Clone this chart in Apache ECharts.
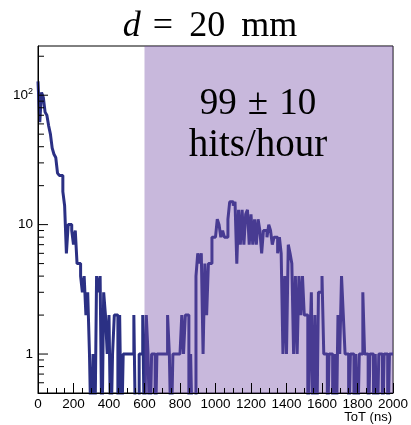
<!DOCTYPE html>
<html>
<head>
<meta charset="utf-8">
<script src="https://cdn.jsdelivr.net/npm/echarts@6/dist/echarts.min.js"></script>
<style>
  html, body { margin: 0; padding: 0; background: #ffffff; }
  #chart { width: 411px; height: 425px; }
</style>
</head>
<body>
<div id="chart"></div>
<script>
// Time-over-threshold spectrum, 10 ns bins from 0 to 2000 ns (counts per bin)
const binWidth = 10;
const counts = [
  128, 62, 105, 96, 74, 70, 58, 50, 39, 35,
  33, 25, 24, 24, 18, 14, 6, 10, 10, 9,
  7, 9, 5, 5, 4, 3, 4, 2, 3, 1,
  0, 1, 0, 4, 3, 4, 0, 3, 2, 1,
  2, 0, 1, 2, 2, 0, 2, 0, 1, 1,
  1, 1, 1, 1, 2, 0, 0, 1, 1, 2,
  0, 2, 1, 0, 1, 1, 0, 1, 1, 1,
  1, 1, 1, 2, 1, 0, 1, 1, 1, 1,
  1, 2, 1, 2, 2, 0, 1, 0, 0, 4,
  6, 5, 6, 1, 5, 2, 5, 5, 8, 8,
  8, 11, 10, 8, 9, 8, 8, 11, 15, 15,
  14, 15, 5, 13, 7, 13, 7, 12, 13, 7,
  12, 7, 11, 7, 11, 9, 6, 9, 9, 8,
  10, 9, 7, 8, 8, 6, 8, 6, 1, 4,
  1, 7, 6, 5, 1, 4, 1, 4, 2, 4,
  2, 2, 0, 1, 3, 0, 2, 0, 3, 3,
  4, 1, 1, 0, 1, 1, 0, 1, 0, 2,
  1, 4, 2, 1, 1, 0, 1, 1, 0, 1,
  0, 1, 1, 3, 1, 1, 0, 1, 1, 0,
  1, 0, 1, 1, 0, 1, 1, 0, 1, 1
];

// Axis ranges
const xRange = [0, 2000];
const yRange = [0.5, 240];
// Signal window highlighted in the plot
const signalWindow = [600, 2000];
// Tick values on the logarithmic axis
const yMajorTicks = [1, 10, 100];
const yMinorTicks = [0.6, 0.7, 0.8, 0.9, 2, 3, 4, 5, 6, 7, 8, 9,
  20, 30, 40, 50, 60, 70, 80, 90, 200];

const titleParts = ['d', '=', '20', 'mm'];
const rateParts = ['99', '\u00b1', '10'];
const rateUnit = 'hits/hour';
const xTitle = 'ToT (ns)';

// Empty bins sit below the visible range so the line drops to the floor
const floorValue = 0.2;
const histPoints = counts.map((c, i) => [i * binWidth, c > 0 ? c : floorValue]);
const lastCount = counts[counts.length - 1];
histPoints.push([counts.length * binWidth, lastCount > 0 ? lastCount : floorValue]);

const lineColor = '#2b3084';
const labelFont = 'Liberation Sans';
const serif = 'Liberation Serif';

const chart = echarts.init(document.getElementById('chart'), null, { renderer: 'canvas' });

function logLabel(v) {
  const e = Math.round(Math.log10(v));
  if (Math.abs(Math.log10(v) - e) > 1e-6) return '';
  if (e >= 2) return '{b|10}{s|' + e + '}';
  return '{b|' + Math.round(v) + '}';
}

chart.setOption({
  animation: false,
  backgroundColor: '#ffffff',
  grid: {
    left: 38, top: 46, right: 18, bottom: 32,
    containLabel: false,
    outerBoundsMode: 'none',
    show: true, borderColor: '#000', borderWidth: 1, backgroundColor: 'transparent'
  },
  xAxis: {
    type: 'value',
    min: xRange[0], max: xRange[1], interval: 200,
    z: 10,
    axisLine: { show: true, onZero: false, lineStyle: { color: '#000', width: 1 } },
    axisTick: { show: true, inside: true, length: 10, lineStyle: { color: '#000' } },
    minorTick: { show: true, splitNumber: 4, length: 5, lineStyle: { color: '#000' } },
    splitLine: { show: false },
    axisLabel: {
      fontFamily: labelFont, fontSize: 13.5, color: '#000', margin: 4,
      hideOverlap: false,
      formatter: v => String(v)
    }
  },
  yAxis: {
    type: 'log', logBase: 10,
    min: yRange[0], max: yRange[1],
    z: 10,
    axisLine: { show: true, lineStyle: { color: '#000', width: 1 } },
    axisTick: { show: false },
    splitLine: { show: false },
    axisLabel: {
      fontFamily: labelFont, fontSize: 13.5, color: '#000', margin: 5,
      formatter: logLabel,
      rich: {
        b: { fontFamily: labelFont, fontSize: 13.5, color: '#000' },
        s: { fontFamily: labelFont, fontSize: 9, color: '#000', padding: [0, 0, 8, 0] }
      }
    }
  },
  graphic: [
    {
      type: 'text', x: 210, y: 27, z: 20,
      style: {
        text: '{i|' + titleParts[0] + '}{e|' + titleParts[1] + '}{n|' + titleParts[2] + '}{m|' + titleParts[3] + '}',
        textAlign: 'center', textVerticalAlign: 'middle',
        rich: {
          i: { fontFamily: serif, fontStyle: 'italic', fontSize: 36, fill: '#000' },
          e: { fontFamily: serif, fontSize: 36, fill: '#000', padding: [0, 16, 0, 12] },
          n: { fontFamily: serif, fontSize: 36, fill: '#000' },
          m: { fontFamily: serif, fontSize: 36, fill: '#000', padding: [0, 0, 0, 16] }
        }
      }
    },
    {
      type: 'text', x: 258, y: 104, z: 20,
      style: {
        text: '{a|' + rateParts[0] + '}{p|' + rateParts[1] + '}{a|' + rateParts[2] + '}',
        textAlign: 'center', textVerticalAlign: 'middle',
        rich: {
          a: { fontFamily: serif, fontSize: 37, fill: '#000' },
          p: { fontFamily: serif, fontSize: 37, fill: '#000', padding: [0, 11, 0, 11] }
        }
      }
    },
    {
      type: 'text', x: 258, y: 146, z: 20,
      style: {
        text: rateUnit, textAlign: 'center', textVerticalAlign: 'middle',
        font: '39px "' + serif + '"', fill: '#000'
      }
    },
    {
      // x-axis title, right-aligned under the end of the axis
      type: 'text', x: 392, y: 417, z: 20,
      style: {
        text: xTitle, textAlign: 'right', textVerticalAlign: 'middle',
        font: '13px "' + labelFont + '"', fill: '#000'
      }
    }
  ],
  series: [
    {
      name: 'ToT',
      type: 'line',
      data: histPoints,
      step: 'end',
      symbol: 'none',
      clip: true,
      z: 2,
      lineStyle: { color: lineColor, width: 3 }
    },
    {
      // translucent band over the signal window
      name: 'window',
      type: 'custom',
      z: 5,
      clip: true,
      data: [signalWindow],
      renderItem: function (params, api) {
        const p0 = api.coord([api.value(0), yRange[1]]);
        const p1 = api.coord([api.value(1), yRange[0]]);
        return {
          type: 'rect',
          shape: { x: p0[0], y: p0[1], width: p1[0] - p0[0], height: p1[1] - p0[1] },
          style: { fill: 'rgba(118, 78, 168, 0.4)' }
        };
      }
    },
    {
      // ticks of the logarithmic axis, drawn inward from the left frame
      name: 'yticks',
      type: 'custom',
      z: 10,
      clip: false,
      data: yMajorTicks.map(v => [v, 10]).concat(yMinorTicks.map(v => [v, 6])),
      renderItem: function (params, api) {
        const p = api.coord([xRange[0], api.value(0)]);
        const len = api.value(1);
        return {
          type: 'line',
          shape: { x1: p[0], y1: p[1], x2: p[0] + len, y2: p[1] },
          style: { stroke: '#000', lineWidth: 1 }
        };
      }
    }
  ]
});
</script>
</body>
</html>
